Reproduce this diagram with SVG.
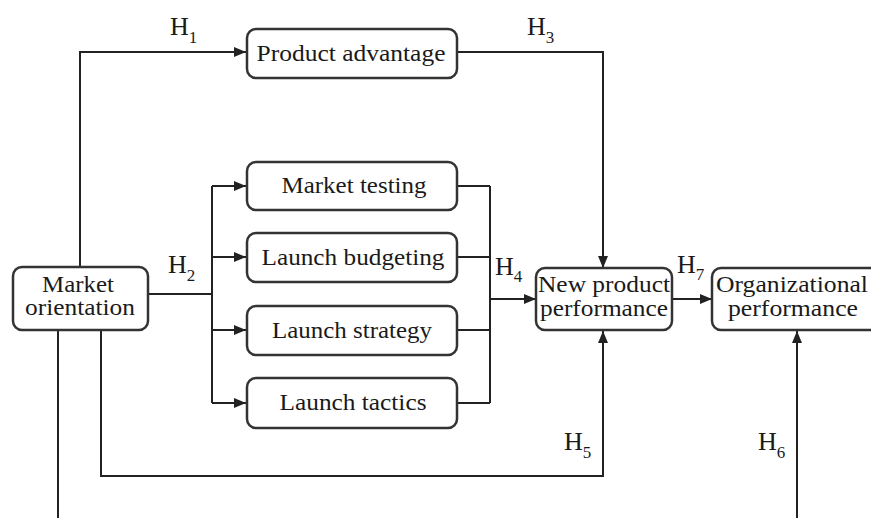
<svg xmlns="http://www.w3.org/2000/svg" width="871" height="518" viewBox="0 0 871 518">
<style>
.box{fill:#fff;stroke:#333;stroke-width:2.5}
.lbl{font-family:'Liberation Serif','DejaVu Serif',serif;font-size:23px;fill:#1a1a1a;text-anchor:middle}
.h{font-family:'Liberation Serif','DejaVu Serif',serif;font-size:26px;fill:#1a1a1a}
.sub{font-size:17px}
.c{fill:none;stroke:#222;stroke-width:2}
</style>
<defs>
<marker id="ar" markerUnits="userSpaceOnUse" markerWidth="12" markerHeight="10" refX="12" refY="5" orient="auto">
<path d="M0,0 L12,5 L0,10 z" fill="#222"/>
</marker>
</defs>
<rect width="871" height="518" fill="#fff"/>
<g id="connectors">
<path class="c" d="M80,267 V52 H246" marker-end="url(#ar)"/>
<path class="c" d="M148,294 H212"/>
<path class="c" d="M212,186 V403"/>
<path class="c" d="M212,186 H246" marker-end="url(#ar)"/>
<path class="c" d="M212,257 H246" marker-end="url(#ar)"/>
<path class="c" d="M212,330 H246" marker-end="url(#ar)"/>
<path class="c" d="M212,403 H246" marker-end="url(#ar)"/>
<path class="c" d="M457,186 H490 M457,257 H490 M457,330 H490 M457,403 H490 M490,186 V403"/>
<path class="c" d="M490,299 H536" marker-end="url(#ar)"/>
<path class="c" d="M457,52 H603 V268" marker-end="url(#ar)"/>
<path class="c" d="M672,299 H712" marker-end="url(#ar)"/>
<path class="c" d="M101,330 V476 H603 V331" marker-end="url(#ar)"/>
<path class="c" d="M58,330 V518"/>
<path class="c" d="M797,518 V331" marker-end="url(#ar)"/>
</g>
<g id="market-orientation">
<rect class="box" x="13" y="267" width="135" height="63" rx="9"/>
<text class="lbl" x="78" y="292" textLength="72" lengthAdjust="spacingAndGlyphs">Market</text>
<text class="lbl" x="80" y="315" textLength="110" lengthAdjust="spacingAndGlyphs">orientation</text>
</g>
<g id="product-advantage">
<rect class="box" x="247" y="29" width="210" height="49" rx="9"/>
<text class="lbl" x="351" y="61" textLength="189" lengthAdjust="spacingAndGlyphs">Product advantage</text>
</g>
<g id="market-testing">
<rect class="box" x="247" y="162" width="210" height="48" rx="9"/>
<text class="lbl" x="354" y="193" textLength="145" lengthAdjust="spacingAndGlyphs">Market testing</text>
</g>
<g id="launch-budgeting">
<rect class="box" x="247" y="233" width="210" height="49" rx="9"/>
<text class="lbl" x="353" y="265" textLength="183" lengthAdjust="spacingAndGlyphs">Launch budgeting</text>
</g>
<g id="launch-strategy">
<rect class="box" x="247" y="306" width="210" height="49" rx="9"/>
<text class="lbl" x="352" y="338" textLength="160" lengthAdjust="spacingAndGlyphs">Launch strategy</text>
</g>
<g id="launch-tactics">
<rect class="box" x="247" y="378" width="210" height="50" rx="9"/>
<text class="lbl" x="353" y="410" textLength="147" lengthAdjust="spacingAndGlyphs">Launch tactics</text>
</g>
<g id="new-product-performance">
<rect class="box" x="536" y="268" width="136" height="62" rx="9"/>
<text class="lbl" x="604" y="292" textLength="132" lengthAdjust="spacingAndGlyphs">New product</text>
<text class="lbl" x="604" y="316" textLength="128" lengthAdjust="spacingAndGlyphs">performance</text>
</g>
<g id="organizational-performance">
<rect class="box" x="712" y="268" width="170" height="62" rx="9"/>
<text class="lbl" x="792" y="292" textLength="152" lengthAdjust="spacingAndGlyphs">Organizational</text>
<text class="lbl" x="793" y="316" textLength="130" lengthAdjust="spacingAndGlyphs">performance</text>
</g>
<g id="labels">
<text class="h" x="170" y="35">H<tspan class="sub" dy="8">1</tspan></text>
<text class="h" x="527" y="35">H<tspan class="sub" dy="8">3</tspan></text>
<text class="h" x="168" y="273">H<tspan class="sub" dy="8">2</tspan></text>
<text class="h" x="495" y="275">H<tspan class="sub" dy="7">4</tspan></text>
<text class="h" x="677" y="273">H<tspan class="sub" dy="7">7</tspan></text>
<text class="h" x="564" y="450">H<tspan class="sub" dy="8">5</tspan></text>
<text class="h" x="758" y="450">H<tspan class="sub" dy="8">6</tspan></text>
</g>
</svg>
